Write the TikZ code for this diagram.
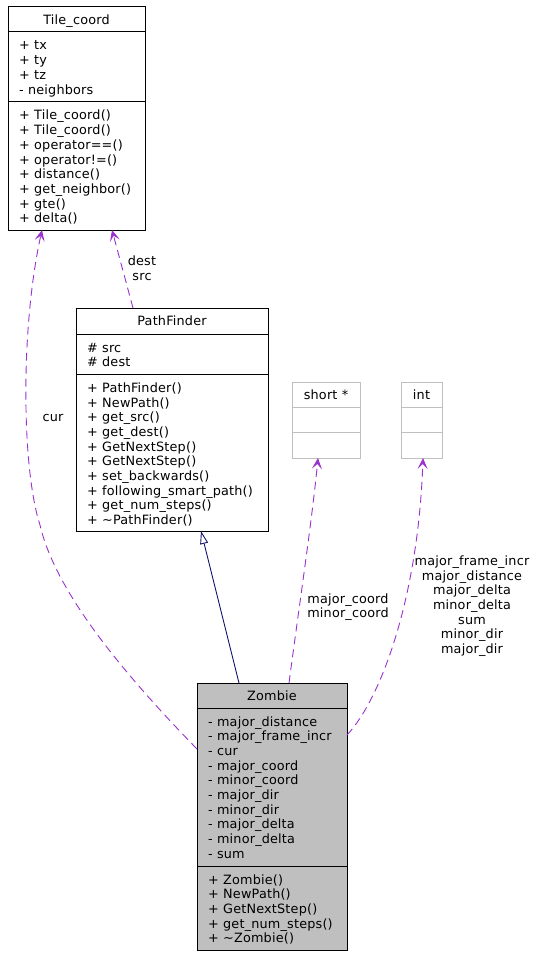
\documentclass[tikz,border=0pt]{standalone}
\usepackage{fontspec}
\setmainfont{DejaVu Sans}[LetterSpace=1.5]
\usetikzlibrary{arrows.meta,calc}
\definecolor{edgep}{HTML}{9A32CD}
\definecolor{edgeb}{HTML}{191970}
\definecolor{zfill}{HTML}{BFBFBF}
\definecolor{gbord}{HTML}{BFBFBF}
\begin{document}
\begin{tikzpicture}[x=1pt,y=-1pt,
  font=\fontsize{12.8}{14.67}\selectfont,
  cls/.style={draw=black, line width=1pt, anchor=north west, inner sep=0pt, outer sep=0pt},
  sep/.style={draw=black, line width=1pt},
  txt/.style={anchor=base west, inner sep=0pt},
  ttl/.style={anchor=base, inner sep=0pt},
  lbl/.style={align=center, inner sep=0pt},
  dep/.style={draw=edgep, line width=0.9pt, dash pattern=on 8pt off 5pt,
    -{Stealth[length=11pt,width=10pt,inset=5pt]}},
  inh/.style={draw=edgeb, line width=0.9pt,
    -{Triangle[open,length=13pt,width=8pt,fill=white]}}]
\useasboundingbox (0,0) rectangle (545,955);

% ---------- Tile_coord ----------
\node[cls, minimum width=137pt, minimum height=223pt] (tile) at (8,7) {};
\draw[sep] (8,32) -- (145,32);
\draw[sep] (8,102) -- (145,102);
\node[ttl] (tilet) at (76.5,24.2) {Tile\_coord};
\foreach \t [count=\i from 0] in {+ tx,+ ty,+ tz,- neighbors}
  \node[txt] (tilea\i) at (19,50+14.67*\i) {\t};
\foreach \t [count=\i from 0] in {+ Tile\_coord(),+ Tile\_coord(),+ operator==(),+ operator!=(),+ distance(),+ get\_neighbor(),+ gte(),+ delta()}
  \node[txt] (tilem\i) at (19,120+14.67*\i) {\t};

% ---------- PathFinder ----------
\node[cls, minimum width=192pt, minimum height=223pt] (pathf) at (76,308) {};
\draw[sep] (76,334) -- (268,334);
\draw[sep] (76,374.5) -- (268,374.5);
\node[ttl] (pathft) at (172,325.5) {PathFinder};
\foreach \t [count=\i from 0] in {\# src,\# dest}
  \node[txt] (pathfa\i) at (87,352+14.67*\i) {\t};
\foreach \t [count=\i from 0] in {+ PathFinder(),+ NewPath(),+ get\_src(),+ get\_dest(),+ GetNextStep(),+ GetNextStep(),+ set\_backwards(),+ following\_smart\_path(),+ get\_num\_steps(),+ \textasciitilde PathFinder()}
  \node[txt] (pathfm\i) at (87,392.5+14.67*\i) {\t};

% ---------- short * ----------
\node[cls, draw=gbord, minimum width=68pt, minimum height=76pt] (short) at (292,382) {};
\draw[sep, draw=gbord] (292,407) -- (360,407);
\draw[sep, draw=gbord] (292,432.5) -- (360,432.5);
\node[ttl] (shortt) at (326,399.2) {short *};

% ---------- int ----------
\node[cls, draw=gbord, minimum width=41pt, minimum height=76pt] (int) at (401,382) {};
\draw[sep, draw=gbord] (401,407) -- (442,407);
\draw[sep, draw=gbord] (401,432.5) -- (442,432.5);
\node[ttl] (intt) at (421.5,399.2) {int};

% ---------- Zombie ----------
\node[cls, fill=zfill, minimum width=150pt, minimum height=267pt] (zombie) at (197,683) {};
\draw[sep] (197,708) -- (347,708);
\draw[sep] (197,866) -- (347,866);
\node[ttl] (zombiet) at (272,700.2) {Zombie};
\foreach \t [count=\i from 0] in {- major\_distance,- major\_frame\_incr,- cur,- major\_coord,- minor\_coord,- major\_dir,- minor\_dir,- major\_delta,- minor\_delta,- sum}
  \node[txt] (zombiea\i) at (208,726+14.67*\i) {\t};
\foreach \t [count=\i from 0] in {+ Zombie(),+ NewPath(),+ GetNextStep(),+ get\_num\_steps(),+ \textasciitilde Zombie()}
  \node[txt] (zombiem\i) at (208,884+14.67*\i) {\t};

% ---------- connectors ----------
\draw[inh] ($(zombie.north west)+(42,0)$) -- ($(pathf.south west)+(125,0)$);
\draw[dep] ($(zombie.north west)+(0,66)$) .. controls (120,670) and (55,590) .. (40,525)
  .. controls (22,470) and (20,330) .. ($(tile.south west)+(34,0)$);
\draw[dep] ($(pathf.north west)+(57,0)$) -- ($(tile.south west)+(104,0)$);
\draw[dep] ($(zombie.north west)+(92,0)$) .. controls (300,600) and (312,520) .. ($(short.south west)+(26,0)$);
\draw[dep] ($(zombie.north east)+(0,52)$) .. controls (380,700) and (418,600) .. ($(int.south west)+(22,0)$);

% ---------- labels ----------
\node[lbl] (lcur) at (53,418) {cur};
\node[lbl] (ldest) at (142,268) {dest\\src};
\node[lbl] (lshort) at (348,607) {major\_coord\\minor\_coord};
\node[lbl] (lint) at (472,606) {major\_frame\_incr\\major\_distance\\major\_delta\\minor\_delta\\sum\\minor\_dir\\major\_dir};
\end{tikzpicture}
\end{document}
